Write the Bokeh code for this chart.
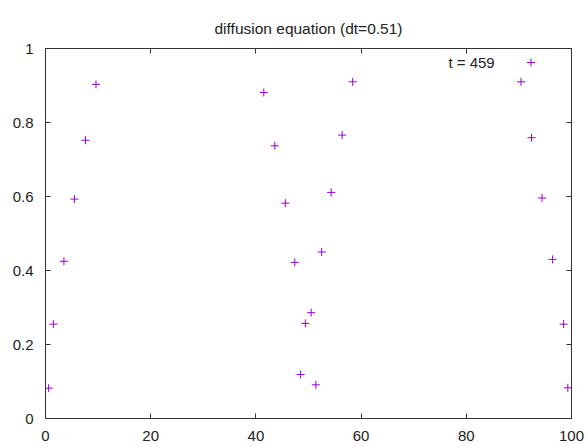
from bokeh.plotting import figure
from bokeh.models import Label, LinearAxis, Range1d, FixedTicker
from bokeh.embed import file_html
from bokeh.resources import INLINE

x_vals = [0.6, 1.5, 3.5, 5.5, 7.6, 9.6,
          41.5, 43.6, 45.6, 47.4, 48.5, 49.4, 50.5, 51.4, 52.5, 54.3, 56.4, 58.4,
          90.4, 92.3, 92.4, 94.4, 96.4, 98.5, 99.3]
y_vals = [0.082, 0.255, 0.425, 0.593, 0.752, 0.903,
          0.881, 0.737, 0.582, 0.422, 0.119, 0.257, 0.286, 0.091, 0.450, 0.611, 0.766, 0.910,
          0.910, 0.962, 0.759, 0.596, 0.430, 0.255, 0.083]
x_ticks = [0, 20, 40, 60, 80, 100]
y_ticks = [0, 0.2, 0.4, 0.6, 0.8, 1]
title_text = "diffusion equation (dt=0.51)"
key_text = "t = 459"

FONT = "Liberation Sans"
AXC = "#333333"

p = figure(width=586, height=447, output_backend="svg", toolbar_location=None,
           x_range=Range1d(0, 100), y_range=Range1d(0, 1),
           min_border_left=45, min_border_right=15, min_border_top=48, min_border_bottom=29,
           title=title_text)
p.title.align = "center"
p.title.vertical_align = "top"
p.title.text_font = FONT
p.title.text_font_size = "15.5px"
p.title.text_font_style = "normal"
p.title.text_color = "#222222"
p.title.standoff = 20

p.grid.visible = False
p.outline_line_color = AXC
p.outline_line_width = 1
p.outline_line_alpha = 1

def style_axis(ax, ticks, show_labels):
    ax.ticker = FixedTicker(ticks=ticks)
    ax.axis_line_color = AXC
    ax.major_tick_in = 5
    ax.major_tick_out = 0
    ax.minor_tick_line_color = None
    ax.major_tick_line_color = AXC
    ax.major_label_text_font = FONT
    ax.major_label_text_font_size = "15px"
    ax.major_label_text_color = "#222222"
    if not show_labels:
        ax.major_label_overrides = {t: "" for t in ticks}
        ax.major_label_standoff = 0

p.add_layout(LinearAxis(), "above")
p.add_layout(LinearAxis(), "right")

for ax in p.below:
    style_axis(ax, x_ticks, True)
    ax.major_label_standoff = 12
for ax in p.left:
    style_axis(ax, y_ticks, True)
    ax.major_label_standoff = 12
for ax in p.above:
    style_axis(ax, x_ticks, False)
for ax in p.right:
    style_axis(ax, y_ticks, False)

p.scatter(x_vals, y_vals, marker="cross", size=8, line_color="#9400D3", line_width=1)

p.add_layout(Label(x=85.4, y=0.963, text=key_text, text_align="right", text_baseline="middle",
                   text_font=FONT, text_font_size="15px", text_color="#222222"))

open("out.html", "w").write(file_html(p, INLINE))
